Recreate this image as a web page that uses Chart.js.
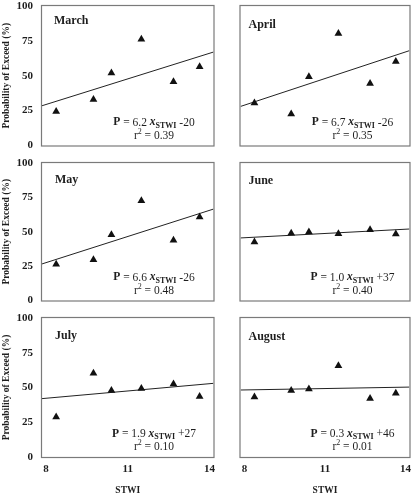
<!DOCTYPE html>
<html><head><meta charset="utf-8">
<script src="https://cdn.jsdelivr.net/npm/chart.js@4"></script>
<style>
html,body{margin:0;padding:0;background:#fff;width:418px;height:499px;overflow:hidden;}
canvas{position:absolute;}
</style></head><body>
<canvas id="c0" width="218" height="150" style="left:0;top:0"></canvas>
<canvas id="c1" width="178" height="150" style="left:236px;top:0"></canvas>
<canvas id="c2" width="218" height="148" style="left:0;top:157px"></canvas>
<canvas id="c3" width="178" height="148" style="left:236px;top:157px"></canvas>
<canvas id="c4" width="218" height="187" style="left:0;top:312px"></canvas>
<canvas id="c5" width="178" height="187" style="left:236px;top:312px"></canvas>
<script>
// ---- data ----
const months = ["March", "April", "May", "June", "July", "August"];
const stwi = [8.37, 9.74, 10.4, 11.5, 12.68, 13.64];
const march  = [24.3, 32.9, 51.9, 76.2, 45.7, 56.4];
const april  = [30.5, 22.6, 49.3, 80.2, 44.5, 60.2];
const may    = [26.3, 29.7, 47.8, 72.5, 43.8, 60.8];
const june   = [42.6, 49.0, 49.8, 48.6, 51.4, 48.3];
const july   = [28.7, 60.3, 47.8, 49.3, 52.6, 43.5];
const august = [43.1, 47.8, 49.0, 65.6, 42.1, 45.9];
const seriesValues = [march, april, may, june, july, august];
// fitted line read at the left and right plot edges
const lineX = [7.85, 14.15];
const lineLeft  = [28.5, 28.0, 26.6, 45.5, 42.0, 48.2];
const lineRight = [67.0, 68.0, 66.5, 52.0, 53.0, 50.3];
const slopes = ["6.2", "6.7", "6.6", "1.0", "1.9", "0.3"];
const intercepts = ["-20", "-26", "-26", "+37", "+27", "+46"];
const r2 = ["0.39", "0.35", "0.48", "0.40", "0.10", "0.01"];
const xTicks = [8, 11, 14];
const yTicks = [0, 25, 50, 75, 100];
const yTitle = "Probability of Exceed (%)";
const xTitle = "STWI";

const F = '"Liberation Serif", "Times New Roman", serif';
const TXT = '#1e1e1e';

function drawRich(ctx, segs, cx, cy) {
  let total = 0;
  segs.forEach(s => { ctx.font = s.f; s.w = ctx.measureText(s.t).width; total += s.w; });
  let x = cx - total / 2;
  ctx.textBaseline = 'middle'; ctx.textAlign = 'left'; ctx.fillStyle = TXT;
  segs.forEach(s => { ctx.font = s.f; ctx.fillText(s.t, x, cy + (s.dy || 0)); x += s.w; });
}

const panelPlugin = {
  id: 'panel',
  afterDraw(chart) {
    const o = chart.options.plugins.panel;
    const a = chart.chartArea, ctx = chart.ctx;
    ctx.save();
    ctx.strokeStyle = '#7a7a7a'; ctx.lineWidth = 1.2;
    ctx.strokeRect(a.left - 0.5, a.top - 0.5, a.right - a.left + 1, a.bottom - a.top + 1);
    ctx.font = 'bold 12px ' + F; ctx.fillStyle = TXT; ctx.textBaseline = 'middle'; ctx.textAlign = 'left';
    ctx.fillText(months[o.i], a.left + o.mx, a.top + o.my);
    const cx = a.left + 112;
    drawRich(ctx, [
      {t: 'P', f: 'bold 11.5px ' + F},
      {t: ' = ' + slopes[o.i] + ' ', f: '11.5px ' + F},
      {t: 'x', f: 'bold italic 11.5px ' + F},
      {t: 'STWI', f: 'bold 8px ' + F, dy: 3},
      {t: ' ' + intercepts[o.i], f: '11.5px ' + F}
    ], cx, a.bottom - 23);
    drawRich(ctx, [
      {t: 'r', f: '11.5px ' + F},
      {t: '2', f: '8px ' + F, dy: -4},
      {t: ' = ' + r2[o.i], f: '11.5px ' + F}
    ], cx, a.bottom - 10);
    ctx.restore();
  }
};

function makePanel(i, leftCol, bottomRow, mx, my) {
  const pts = stwi.map((x, k) => ({x: x, y: seriesValues[i][k]}));
  const ln = [{x: lineX[0], y: lineLeft[i]}, {x: lineX[1], y: lineRight[i]}];
  new Chart(document.getElementById('c' + i), {
    type: 'scatter',
    data: {datasets: [
      {data: ln, showLine: true, borderColor: '#222', borderWidth: 1, pointRadius: 0, order: 2},
      {data: pts, pointStyle: 'triangle', pointRadius: 4.5, backgroundColor: '#111', borderWidth: 0, order: 1}
    ]},
    plugins: [panelPlugin],
    options: {
      responsive: false, animation: false, events: [],
      layout: {padding: {top: 6, bottom: bottomRow ? 0 : 3, left: leftCol ? 0 : 2, right: leftCol ? 2 : 3}},
      plugins: {legend: {display: false}, tooltip: {enabled: false}, panel: {i: i, mx: mx, my: my}},
      scales: {
        x: {
          type: 'linear', min: lineX[0], max: lineX[1], display: bottomRow,
          afterBuildTicks: s => { s.ticks = xTicks.map(v => ({value: v})); },
          afterFit: s => {
            if (bottomRow) s.height = 42; else s.height = 0;
            s.paddingLeft = 0; s.paddingRight = 0; s.paddingTop = 0; s.paddingBottom = 0;
          },
          grid: {display: false, drawTicks: false}, border: {display: false},
          ticks: {padding: 6, color: TXT, font: {family: F, size: 11, weight: 'bold'}},
          title: {display: true, text: xTitle, color: TXT, padding: {top: 0, bottom: 3}, font: {family: F, size: 9.5, weight: 'bold'}}
        },
        y: {
          type: 'linear', min: 0, max: 100, display: leftCol,
          afterBuildTicks: s => { s.ticks = yTicks.map(v => ({value: v})); },
          afterFit: s => {
            if (leftCol) s.width = 42; else s.width = 0;
            s.paddingLeft = 0; s.paddingRight = 0; s.paddingTop = 0; s.paddingBottom = 0;
          },
          grid: {display: false, drawTicks: false}, border: {display: false},
          ticks: {padding: 9, color: TXT, font: {family: F, size: 11, weight: 'bold'}},
          title: {display: true, text: yTitle, color: TXT, padding: {top: 1, bottom: 0}, font: {family: F, size: 9.5, weight: 'bold'}}
        }
      }
    }
  });
}
makePanel(0, true, false, 12, 15);
makePanel(1, false, false, 8, 19);
makePanel(2, true, false, 13, 17);
makePanel(3, false, false, 8, 18);
makePanel(4, true, true, 13, 18);
makePanel(5, false, true, 8, 19);
</script>
</body></html>
